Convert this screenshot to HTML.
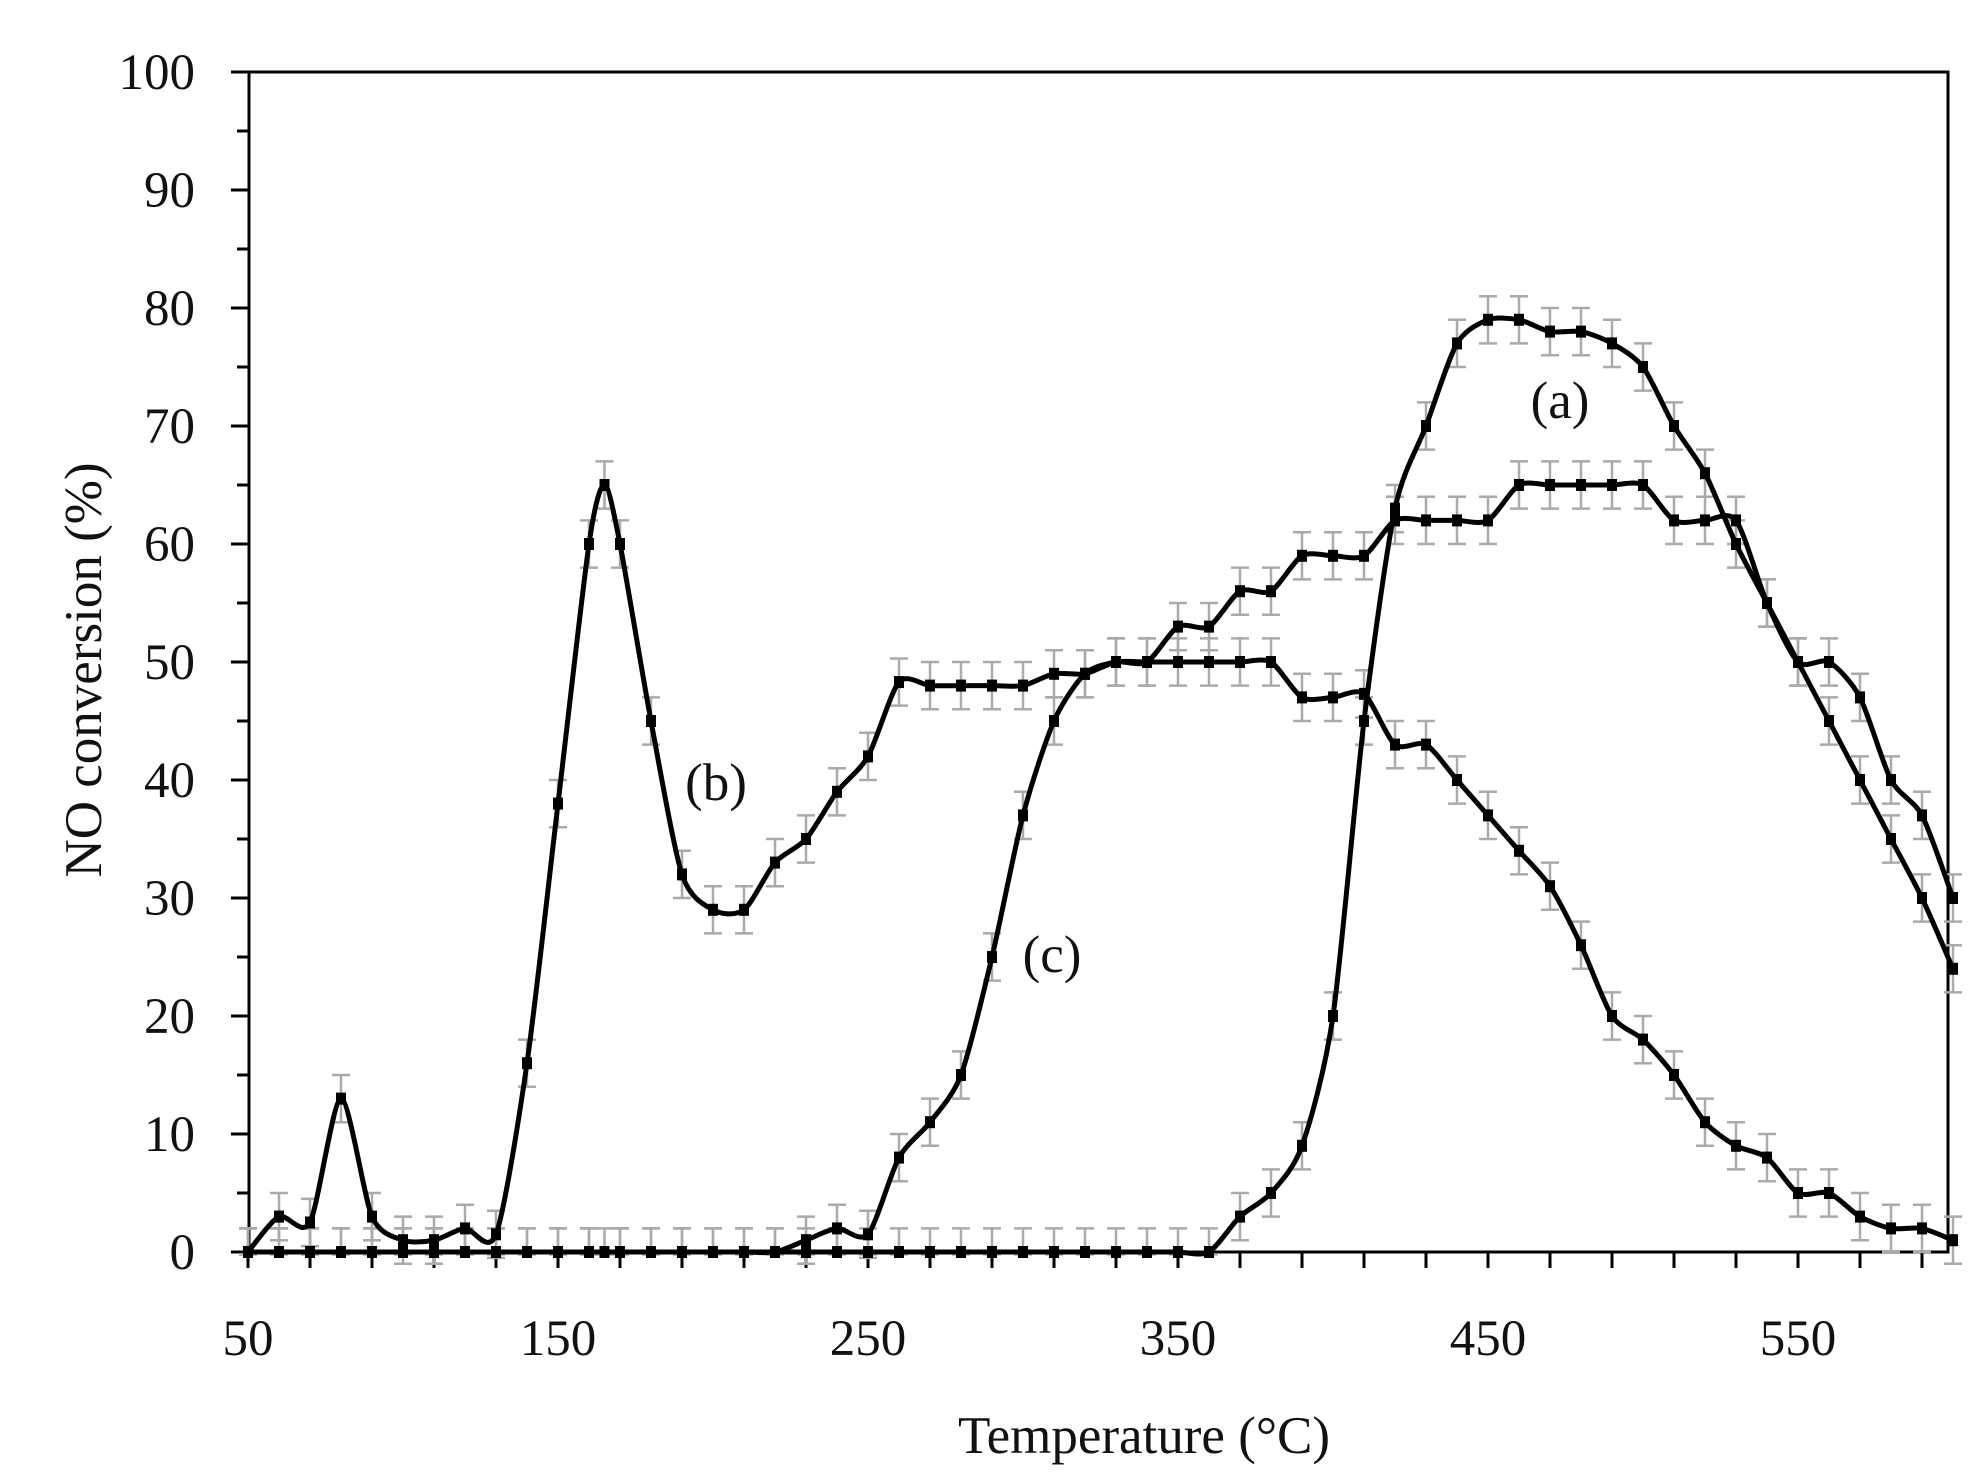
<!DOCTYPE html>
<html><head><meta charset="utf-8"><style>
html,body{margin:0;padding:0;background:#fff;}
svg{display:block;}
text{font-family:"Liberation Serif",serif;fill:#111;}
</style></head><body>
<svg id="s" width="1987" height="1482" viewBox="0 0 1987 1482" xmlns="http://www.w3.org/2000/svg"></svg>
<script>
const S=document.getElementById('s');
const X=t=>248+(t-50)*3.1, Y=v=>1252-v*11.8;
let h='';
h+='<rect x="249" y="72" width="1699" height="1180" fill="none" stroke="#000" stroke-width="3"/>';
for(let v=0;v<=100;v+=5){const y=Y(v);h+=`<line x1="${v%10?237:231}" y1="${y}" x2="249" y2="${y}" stroke="#000" stroke-width="3"/>`;
 if(v%10==0)h+=`<text x="195" y="${y+17}" font-size="51" text-anchor="end">${v}</text>`;}
h+='<line x1="231" y1="1252" x2="1948" y2="1252" stroke="#000" stroke-width="3"/>';
for(let t=50;t<=600;t+=20){h+=`<line x1="${X(t)}" y1="1252" x2="${X(t)}" y2="1268" stroke="#000" stroke-width="3"/>`;}
for(let t=50;t<=550;t+=100)h+=`<text x="${X(t)}" y="1355" font-size="51" text-anchor="middle">${t}</text>`;
h+='<text x="1144" y="1453" font-size="53" text-anchor="middle">Temperature (°C)</text>';
h+='<text transform="translate(101,670) rotate(-90)" font-size="53" text-anchor="middle">NO conversion (%)</text>';
const A=[];for(let t=50;t<=360;t+=10)A.push([t,0]);
[[370,3],[380,5],[390,9],[400,20],[410,45],[420,63],[430,70],[440,77],[450,79],[460,79],[470,78],[480,78],[490,77],[500,75],[510,70],[520,66],[530,60],[540,55],[550,50],[560,45],[570,40],[580,35],[590,30],[600,24]].forEach(p=>A.push(p));
const B=[[50,0],[60,3],[70,2.5],[80,13],[90,3],[100,1],[110,1],[120,2],[130,1.5],[140,16],[150,38],[160,60],[165,65],[170,60],[180,45],[190,32],[200,29],[210,29],[220,33],[230,35],[240,39],[250,42],[260,48.3],[270,48],[280,48],[290,48],[300,48],[310,49],[320,49],[330,50],[340,50],[350,53],[360,53],[370,56],[380,56],[390,59],[400,59],[410,59],[420,62],[430,62],[440,62],[450,62],[460,65],[470,65],[480,65],[490,65],[500,65],[510,62],[520,62],[530,62],[540,55],[550,50],[560,50],[570,47],[580,40],[590,37],[600,30]];
const C=[];for(let t=50;t<=220;t+=10)C.push([t,0]);C.splice(12,0,[160,0],[165,0]);
[[230,1],[240,2],[250,1.5],[260,8],[270,11],[280,15],[290,25],[300,37],[310,45],[320,49],[330,50],[340,50],[350,50],[360,50],[370,50],[380,50],[390,47],[400,47],[410,47.3],[420,43],[430,43],[440,40],[450,37],[460,34],[470,31],[480,26],[490,20],[500,18],[510,15],[520,11],[530,9],[540,8],[550,5],[560,5],[570,3],[580,2],[590,2],[600,1]].forEach(p=>C.push(p));
function path(P){const p=P.map(q=>[X(q[0]),Y(q[1])]);let d=`M${p[0][0]},${p[0][1]}`;
 for(let i=0;i<p.length-1;i++){const p0=p[i-1]||p[i],p1=p[i],p2=p[i+1],p3=p[i+2]||p2,k=0.13;
 d+=`C${p1[0]+(p2[0]-p0[0])*k},${p1[1]+(p2[1]-p0[1])*k} ${p2[0]-(p3[0]-p1[0])*k},${p2[1]-(p3[1]-p1[1])*k} ${p2[0]},${p2[1]}`;}return d;}
[A,B,C].forEach(P=>{P.forEach(q=>{const x=X(q[0]);const y1=Y(q[1]+2),y2=Y(q[1]==0?-0.2:q[1]-2);
 h+=`<path d="M${x},${y1}V${y2}M${x-9},${y1}h18M${x-9},${y2}h18" stroke="#aaa" stroke-width="2.5" fill="none"/>`;});});
[A,B,C].forEach(P=>{h+=`<path d="${path(P)}" stroke="#000" stroke-width="5" fill="none"/>`;
 P.forEach(q=>{h+=`<rect x="${X(q[0])-5}" y="${Y(q[1])-6}" width="10" height="12" fill="#000"/>`;});});
h+='<text x="1560" y="418" font-size="53" text-anchor="middle">(a)</text>';
h+='<text x="716" y="800" font-size="53" text-anchor="middle">(b)</text>';
h+='<text x="1052" y="972" font-size="53" text-anchor="middle">(c)</text>';
S.innerHTML=h;
</script>
</body></html>
